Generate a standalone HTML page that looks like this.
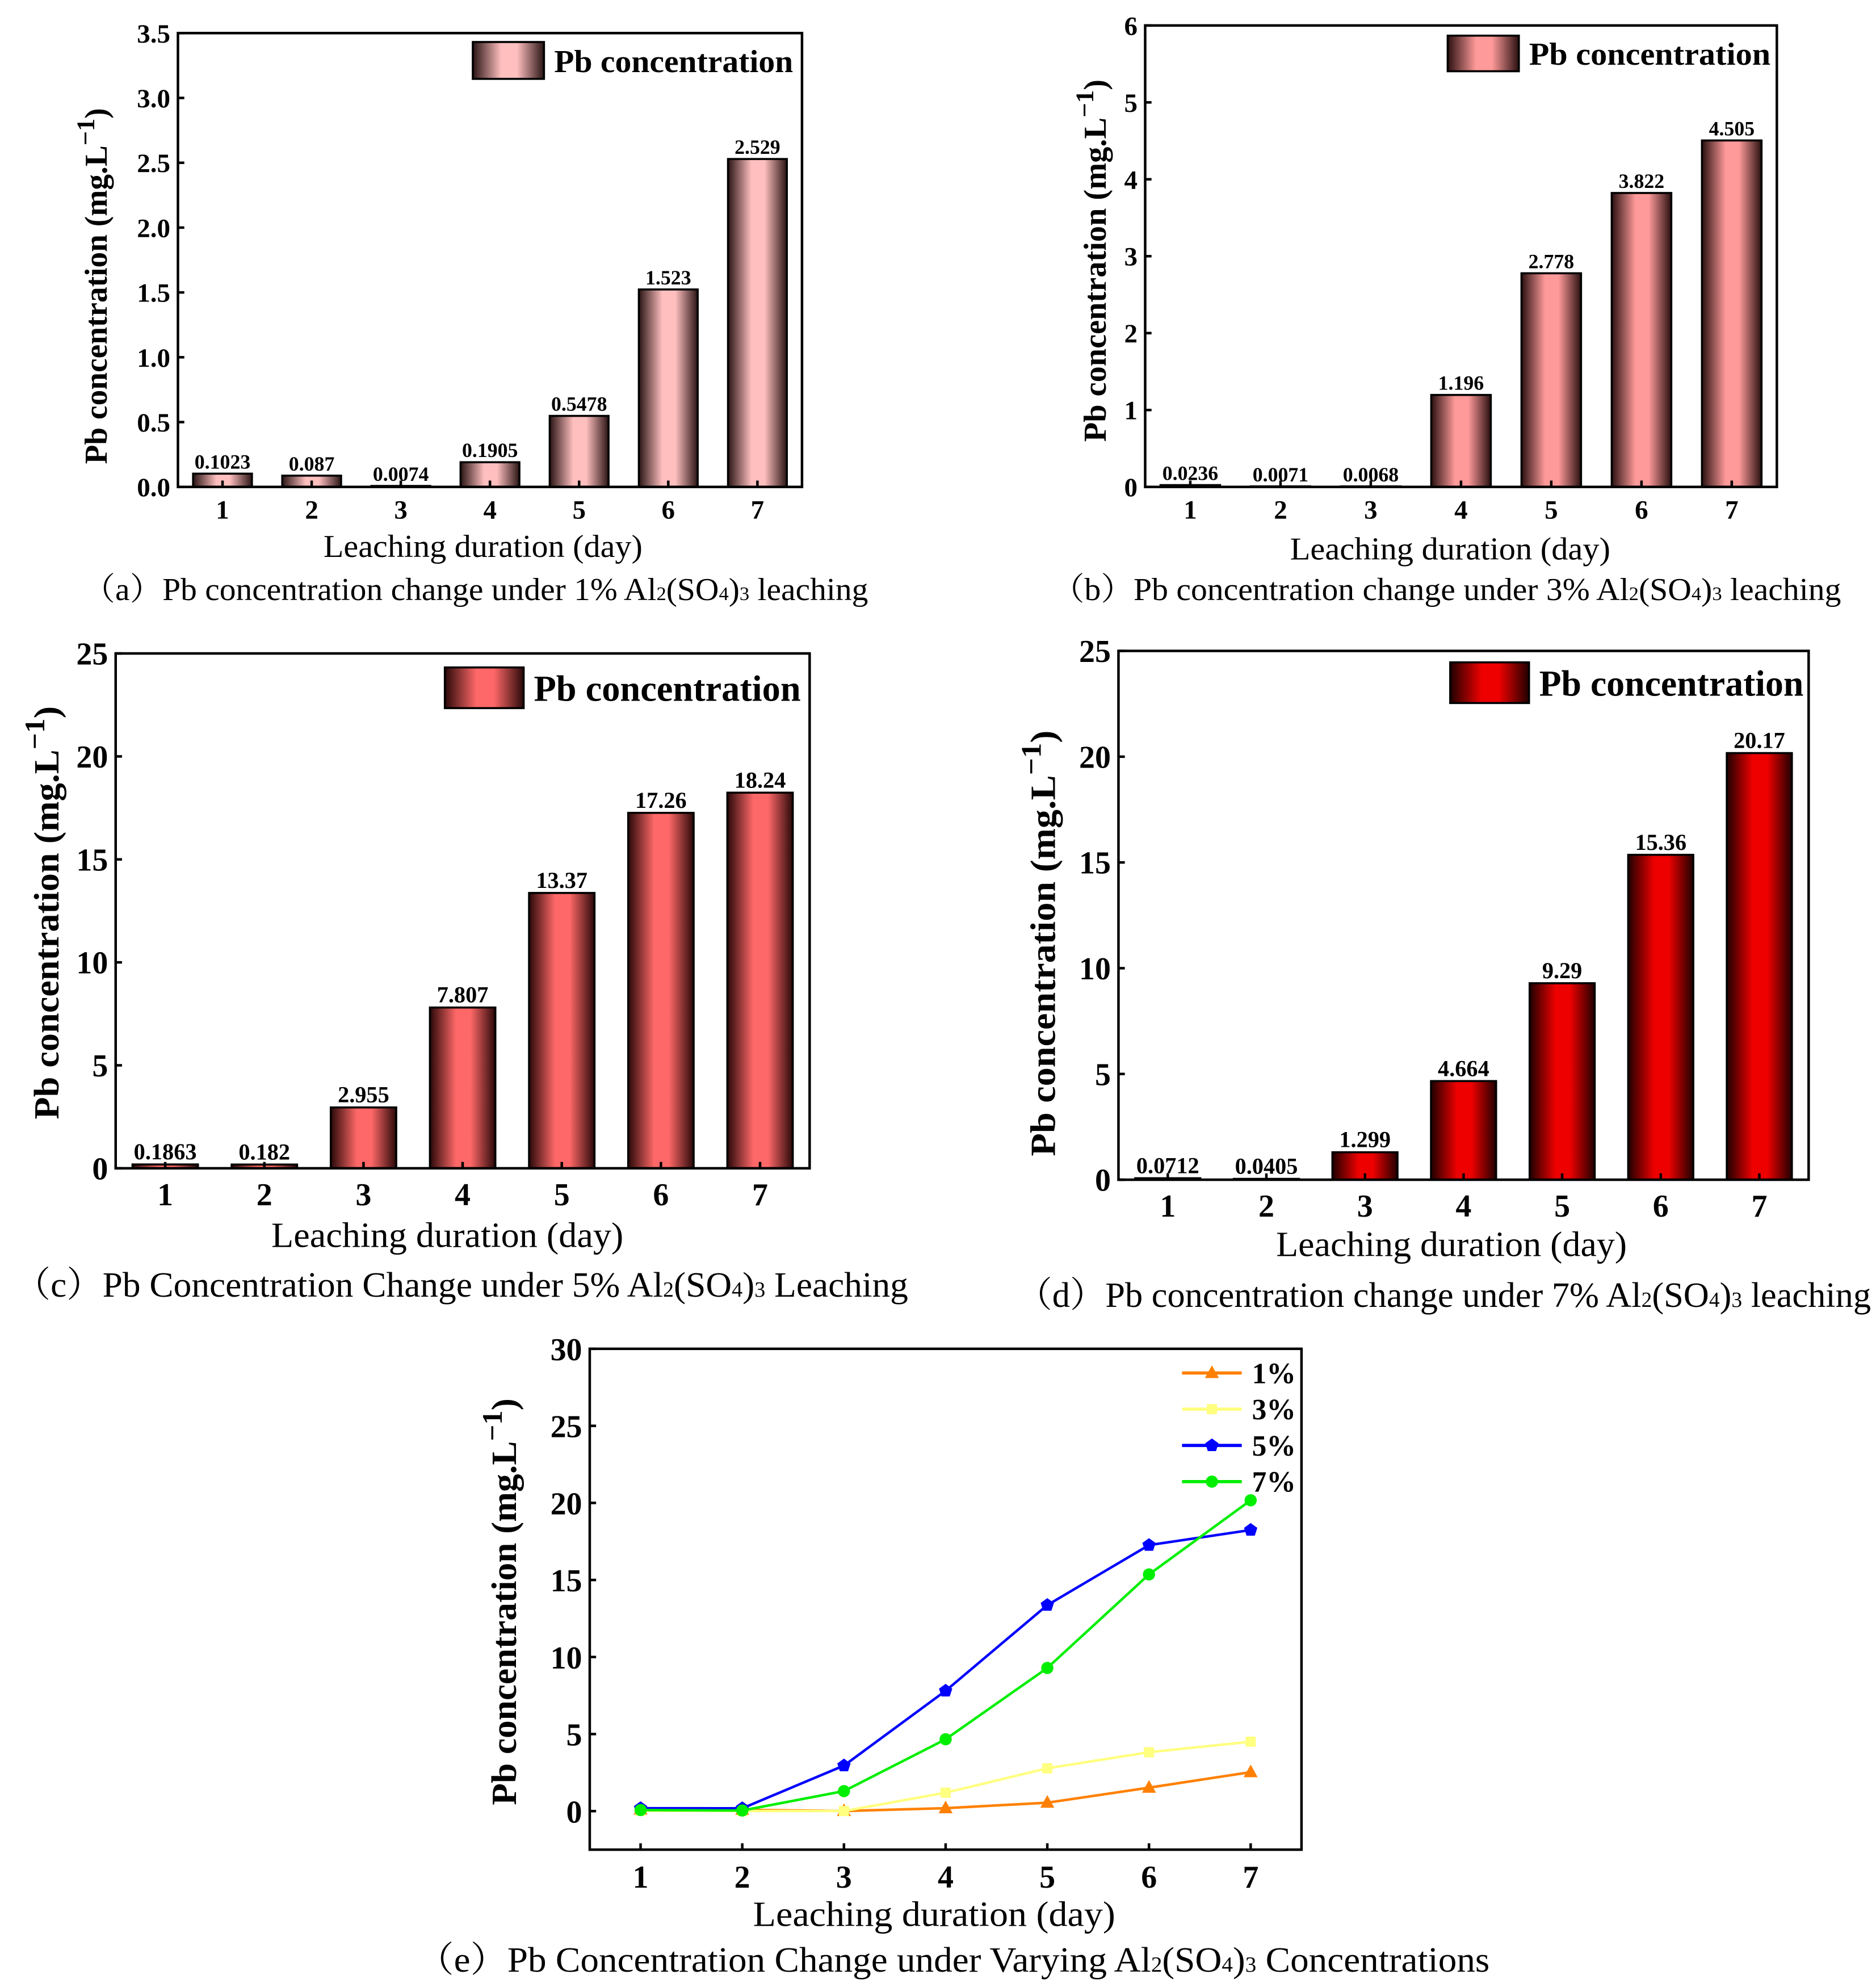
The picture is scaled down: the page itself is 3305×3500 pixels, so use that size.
<!DOCTYPE html>
<html><head><meta charset="utf-8"><style>
html,body{margin:0;padding:0;background:#fff}
svg{display:block}
text{font-family:"Liberation Serif",serif}
text.cap{font-family:"Liberation Serif","Noto Serif CJK SC",serif}
</style></head><body>
<svg id="fig" width="3305" height="3500" viewBox="0 0 1476 1563" xmlns="http://www.w3.org/2000/svg" font-family="Liberation Serif, serif">
<defs>
<linearGradient id="gA" x1="0" x2="1"><stop offset="0" stop-color="#2a1414"/><stop offset="0.4" stop-color="#ffbfbf"/><stop offset="0.62" stop-color="#ffbfbf"/><stop offset="1" stop-color="#2a1414"/></linearGradient>
<linearGradient id="gB" x1="0" x2="1"><stop offset="0" stop-color="#2a1010"/><stop offset="0.4" stop-color="#ff9a9a"/><stop offset="0.62" stop-color="#ff9a9a"/><stop offset="1" stop-color="#2a1010"/></linearGradient>
<linearGradient id="gC" x1="0" x2="1"><stop offset="0" stop-color="#2a0808"/><stop offset="0.4" stop-color="#ff6868"/><stop offset="0.62" stop-color="#ff6868"/><stop offset="1" stop-color="#2a0808"/></linearGradient>
<linearGradient id="gD" x1="0" x2="1"><stop offset="0" stop-color="#200000"/><stop offset="0.4" stop-color="#ee0000"/><stop offset="0.62" stop-color="#ee0000"/><stop offset="1" stop-color="#200000"/></linearGradient>
</defs>
</svg>
<script>
const categories=[1,2,3,4,5,6,7];
const valuesA=[0.1023,0.087,0.0074,0.1905,0.5478,1.523,2.529];
const labelsA=["0.1023","0.087","0.0074","0.1905","0.5478","1.523","2.529"];
const valuesB=[0.0236,0.0071,0.0068,1.196,2.778,3.822,4.505];
const labelsB=["0.0236","0.0071","0.0068","1.196","2.778","3.822","4.505"];
const valuesC=[0.1863,0.182,2.955,7.807,13.37,17.26,18.24];
const labelsC=["0.1863","0.182","2.955","7.807","13.37","17.26","18.24"];
const valuesD=[0.0712,0.0405,1.299,4.664,9.29,15.36,20.17];
const labelsD=["0.0712","0.0405","1.299","4.664","9.29","15.36","20.17"];
const ticksA=["0.0","0.5","1.0","1.5","2.0","2.5","3.0","3.5"];
const ticksB=["0","1","2","3","4","5","6"];
const ticksCD=["0","5","10","15","20","25"];
const ticksE=["0","5","10","15","20","25","30"];
const seriesNames=["1%","3%","5%","7%"];

const svg=document.getElementById('fig');
const NS='http://www.w3.org/2000/svg';
function mk(tag,attrs,parent){const e=document.createElementNS(NS,tag);for(const k in attrs)e.setAttribute(k,attrs[k]);(parent||svg).appendChild(e);return e;}
function txt(s,attrs,parent){const e=mk('text',attrs,parent);e.textContent=s;return e;}
function fit(e,w){e.setAttribute('textLength',w);e.setAttribute('lengthAdjust','spacingAndGlyphs');}

function ylabel(g,x,cy,fs,len){
  const t=mk('text',{x:0,y:0,'font-size':fs,'font-weight':'bold','text-anchor':'middle',transform:`translate(${x},${cy}) rotate(-90)`},g);
  
  const a=document.createElementNS(NS,'tspan');a.textContent='Pb concentration (mg.L';t.appendChild(a);
  const b=document.createElementNS(NS,'tspan');b.setAttribute('dy',-fs*0.4);b.setAttribute('font-size',fs*0.8);b.textContent='\u22121';t.appendChild(b);
  const c=document.createElementNS(NS,'tspan');c.setAttribute('dy',fs*0.4);c.textContent=')';t.appendChild(c);
  fit(t,len);
}
function caption(g,s1,pct,s2,cx,y,fs,len){
  const t=mk('text',{x:cx,y:y,'font-size':fs,'text-anchor':'middle','class':'cap'},g);
  
  const parts=[[s1+pct+' Al',0],['2',1],['(SO',0],['4',1],[')',0],['3',1],[s2,0]];
  parts.forEach(p=>{const ts=document.createElementNS(NS,'tspan');ts.textContent=p[0];if(p[1])ts.setAttribute('font-size',fs*0.6);t.appendChild(ts);});
  fit(t,len);
}

function barPanel(o){
  const g=mk('g',{});
  
  const sx=c=>o.x0+(c-0.5)*(o.x1-o.x0)/7;
  const sy=v=>o.y1-(v/o.ymax)*(o.y1-o.y0);
  const bw=(o.x1-o.x0)/7*0.66;
  o.values.forEach((v,i)=>{
    const c=categories[i];
    const r=mk('rect',{x:sx(c)-bw/2,y:sy(v),width:bw,height:Math.max(sy(0)-sy(v),0.5),fill:`url(#${o.grad})`,stroke:'#000','stroke-width':1.6},g);
    
    const t=txt(o.labels[i],{x:sx(c),y:sy(v)-4,'font-size':o.vfs,'font-weight':'bold','text-anchor':'middle'},g);
    
  });
  const f=mk('rect',{x:o.x0,y:o.y0,width:o.x1-o.x0,height:o.y1-o.y0,fill:'none',stroke:'#000','stroke-width':2},g);
  
  o.ticks.forEach((s,i)=>{
    const v=i*o.step,y=sy(v);
    mk('line',{x1:o.x0,x2:o.x0+5,y1:y,y2:y,stroke:'#000','stroke-width':2},g);
    const t=txt(s,{x:o.x0-6,y:y+o.tfs*0.35,'font-size':o.tfs,'font-weight':'bold','text-anchor':'end'},g);
    
  });
  categories.forEach(c=>{
    mk('line',{x1:sx(c),x2:sx(c),y1:o.y1,y2:o.y1-5,stroke:'#000','stroke-width':2},g);
    const t=txt(String(c),{x:sx(c),y:o.y1+o.tfs+4,'font-size':o.tfs,'font-weight':'bold','text-anchor':'middle'},g);
    
  });
  const ls=mk('rect',{x:o.lx,y:o.ly,width:o.lw,height:o.lh,fill:`url(#${o.grad})`,stroke:'#000','stroke-width':1.6},g);
  
  const lt=txt('Pb concentration',{x:o.lx+o.lw+8,y:o.ly+o.lh*0.82,'font-size':o.lfs,'font-weight':'bold'},g);
  
  fit(lt,o.llen);
  ylabel(g,o.ylx,o.ycy,o.yfs,o.ylen);
  const xt=txt('Leaching duration (day)',{x:o.xtx,y:o.xty,'font-size':o.xfs,'text-anchor':'middle'},g);
  
  fit(xt,o.xlen);
  caption(g,o.cap1,o.pct,o.cap2,o.cx,o.cy,o.cfs,o.clen);
}

barPanel({name:'panel-a',x0:140,x1:631,y0:26,y1:383,ymax:3.5,step:0.5,values:valuesA,labels:labelsA,ticks:ticksA,grad:'gA',vfs:16,tfs:21,lx:372,ly:33,lw:56,lh:29,lfs:25,llen:188,ylx:84,ycy:225,yfs:25,ylen:280,xtx:380,xty:438,xfs:25,xlen:251,cap1:'\uff08a\uff09Pb concentration change under ',pct:'1%',cap2:' leaching',cx:374,cy:472,cfs:25,clen:618});
barPanel({name:'panel-b',x0:901,x1:1398,y0:20,y1:383,ymax:6,step:1,values:valuesB,labels:labelsB,ticks:ticksB,grad:'gB',vfs:16,tfs:21,lx:1139,ly:28,lw:56,lh:28,lfs:25,llen:190,ylx:870,ycy:205,yfs:25,ylen:285,xtx:1141,xty:440,xfs:25,xlen:252,cap1:'\uff08b\uff09Pb concentration change under ',pct:'3%',cap2:' leaching',cx:1138,cy:472,cfs:25,clen:621});
barPanel({name:'panel-c',x0:91,x1:637,y0:514,y1:919,ymax:25,step:5,values:valuesC,labels:labelsC,ticks:ticksCD,grad:'gC',vfs:18,tfs:25,lx:350,ly:525,lw:62,lh:32,lfs:29,llen:210,ylx:46,ycy:718,yfs:28,ylen:325,xtx:352,xty:981,xfs:28,xlen:277,cap1:'\uff08c\uff09Pb Concentration Change under ',pct:'5%',cap2:' Leaching',cx:363,cy:1020,cfs:28,clen:703});
barPanel({name:'panel-d',x0:880,x1:1423,y0:512,y1:928,ymax:25,step:5,values:valuesD,labels:labelsD,ticks:ticksCD,grad:'gD',vfs:18,tfs:25,lx:1141,ly:521,lw:62,lh:32,lfs:29,llen:208,ylx:830,ycy:742,yfs:28,ylen:335,xtx:1142,xty:988,xfs:28,xlen:276,cap1:'\uff08d\uff09Pb concentration change under ',pct:'7%',cap2:' leaching',cx:1136,cy:1028,cfs:28,clen:672});

(function(){
  const g=mk('g',{});
  
  const x0=464,x1=1024,y0=1061,y1=1455,ymin=-2.5,ymax=30;
  const sx=c=>x0+(c-0.5)*(x1-x0)/7;
  const sy=v=>y1-(v-ymin)/(ymax-ymin)*(y1-y0);
  const f=mk('rect',{x:x0,y:y0,width:x1-x0,height:y1-y0,fill:'none',stroke:'#000','stroke-width':2},g);
  
  ticksE.forEach((s,i)=>{const y=sy(i*5);
    mk('line',{x1:x0,x2:x0+5,y1:y,y2:y,stroke:'#000','stroke-width':2},g);
    const t=txt(s,{x:x0-6,y:y+9,'font-size':25,'font-weight':'bold','text-anchor':'end'},g);
    });
  categories.forEach(c=>{
    mk('line',{x1:sx(c),x2:sx(c),y1:y1,y2:y1-5,stroke:'#000','stroke-width':2},g);
    const t=txt(String(c),{x:sx(c),y:y1+30,'font-size':25,'font-weight':'bold','text-anchor':'middle'},g);
    });
  const series=[valuesA,valuesB,valuesC,valuesD];
  const colors=['#ff8000','#ffff80','#0000ff','#00ee00'];
  const shapes=['tri','sq','pent','circ'];
  function marker(kind,x,y,col,p){
    let e;
    if(kind==='tri')e=mk('polygon',{points:`${x},${y-6} ${x-5.5},${y+4} ${x+5.5},${y+4}`,fill:col},p);
    else if(kind==='sq')e=mk('rect',{x:x-4,y:y-4,width:8,height:8,fill:col},p);
    else if(kind==='pent'){const pts=[];for(let k=0;k<5;k++){const a=-Math.PI/2+k*2*Math.PI/5;pts.push((x+5.5*Math.cos(a))+','+(y+5.5*Math.sin(a)));}e=mk('polygon',{points:pts.join(' '),fill:col},p);}
    else e=mk('circle',{cx:x,cy:y,r:4.8,fill:col},p);
    return e;
  }
  series.forEach((vals,si)=>{
    const pts=vals.map((v,i)=>sx(categories[i])+','+sy(v)).join(' ');
    const l=mk('polyline',{points:pts,fill:'none',stroke:colors[si],'stroke-width':2},g);
    
    vals.forEach((v,i)=>{const m=marker(shapes[si],sx(categories[i]),sy(v),colors[si],g);
      });
    const ly=1080+si*28.5;
    const lg=mk('g',{},g);
    
    mk('line',{x1:930,x2:977,y1:ly,y2:ly,stroke:colors[si],'stroke-width':2.5},lg);
    marker(shapes[si],953.5,ly,colors[si],lg);
    txt(seriesNames[si],{x:985,y:ly+8,'font-size':23,'font-weight':'bold'},lg);
  });
  ylabel(g,406,1260,28,320);
  const xt=txt('Leaching duration (day)',{x:735,y:1515,'font-size':28,'text-anchor':'middle'},g);
  
  fit(xt,285);
  caption(g,'\uff08e\uff09Pb Concentration Change under Varying','',' Concentrations',750,1551,28,844);
})();
</script>
</body></html>
